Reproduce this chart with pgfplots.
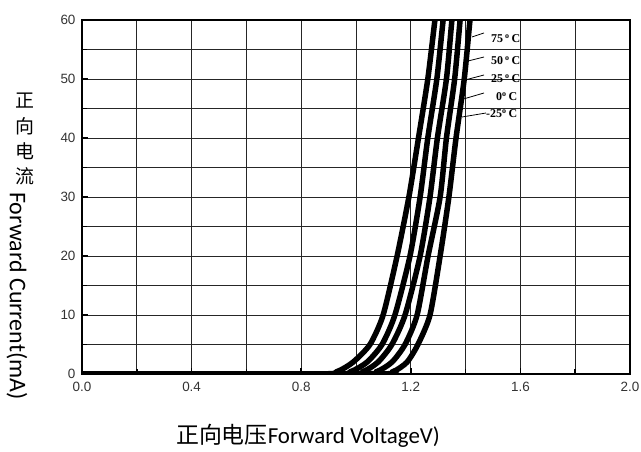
\documentclass[border=0pt]{standalone}
\usepackage{pgfplots}
\pgfplotsset{compat=1.18}
\usepackage{fontspec}
\setmainfont{Liberation Sans}
\newfontfamily\carlito{Carlito}
\newfontfamily\cjk{Noto Sans CJK SC}
\newfontfamily\tnr{Liberation Serif}
\definecolor{ticklab}{HTML}{333333}
\begin{document}
\begin{tikzpicture}[x=1bp,y=1bp]
\useasboundingbox (-82,-78) rectangle (559,374);
\begin{axis}[
  scale only axis, width=548bp, height=354bp,
  xmin=0, xmax=2, ymin=0, ymax=60,
  xtick={0,0.4,...,2.01}, ytick={0,10,...,60},
  minor x tick num=1, minor y tick num=1,
  grid=both,
  major grid style={black!85, line width=0.7bp},
  minor grid style={black!85, line width=0.7bp},
  axis line style={black, line width=1.8bp},
  tick style={black, line width=1.5bp},
  major tick length=6bp, minor tick length=5bp,
  tick align=inside,
  xtick pos=bottom, ytick pos=left,
  tick label style={font=\fontsize{13.5}{13.5}\selectfont, text=ticklab},
  /pgf/number format/assume math mode=true,
  xticklabel style={/pgf/number format/fixed, /pgf/number format/fixed zerofill, /pgf/number format/precision=1, yshift=-5bp},
  yticklabel style={xshift=-3bp},
  clip=true,
]
% 75 C
\addplot[black, line width=5.5bp, smooth, tension=0.4] coordinates {(0,0) (0.85,0) (0.93,0.4) (0.989,2) (1.051,5) (1.099,10) (1.150,20) (1.193,30) (1.228,40) (1.262,50) (1.288,60) (1.294,62)};
% 50 C
\addplot[black, line width=5.5bp, smooth, tension=0.4] coordinates {(0,0) (0.90,0) (0.98,0.4) (1.04,2) (1.095,5) (1.142,10) (1.197,20) (1.234,30) (1.262,40) (1.295,50) (1.318,60) (1.324,62)};
% 25 C
\addplot[black, line width=5.5bp, smooth, tension=0.4] coordinates {(0,0) (0.95,0) (1.025,0.4) (1.08,2) (1.131,5) (1.179,10) (1.234,20) (1.270,30) (1.297,40) (1.330,50) (1.350,60) (1.356,62)};
% 0 C
\addplot[black, line width=5.5bp, smooth, tension=0.4] coordinates {(0,0) (1.00,0) (1.075,0.4) (1.131,2) (1.179,5) (1.223,10) (1.263,20) (1.307,30) (1.330,40) (1.360,50) (1.380,60) (1.386,62)};
% -25 C
\addplot[black, line width=5.5bp, smooth, tension=0.4] coordinates {(0,0) (1.06,0) (1.135,0.4) (1.186,2) (1.226,5) (1.270,10) (1.307,20) (1.339,30) (1.365,40) (1.395,50) (1.416,60) (1.422,62)};
\end{axis}
% leader lines
\draw[black, line width=0.8bp] (390,337) -- (402,341);
\draw[black, line width=0.8bp] (386,313) -- (402,317);
\draw[black, line width=0.8bp] (383,294) -- (402,299);
\draw[black, line width=0.8bp] (378,274) -- (402,281);
\draw[black, line width=0.8bp] (380,257) -- (404,261);
% temperature labels
\tikzset{tl/.style={anchor=west, inner sep=0pt, font=\tnr\bfseries\fontsize{12}{12}\selectfont}}
\node[tl] at (409,335) {75\,\textsuperscript{o}\,C};
\node[tl] at (409,313) {50\,\textsuperscript{o}\,C};
\node[tl] at (409,295) {25\,\textsuperscript{o}\,C};
\node[tl] at (414,277) {0\textsuperscript{o}\,C};
\node[tl] at (404,260) {-25\textsuperscript{o}\,C};
% axis labels
\node[anchor=center, inner sep=0pt] at (226,-62) {\fontsize{23}{23}\selectfont\cjk 正向电压\carlito Forward VoltageV)};
\node[anchor=center, inner sep=0pt, rotate=-90] at (-65,78) {\fontsize{24}{24}\selectfont\carlito Forward Current(mA)};
\node[anchor=center, inner sep=0pt] at (-57,273) {\fontsize{19}{19}\selectfont\cjk 正};
\node[anchor=center, inner sep=0pt] at (-57,248) {\fontsize{19}{19}\selectfont\cjk 向};
\node[anchor=center, inner sep=0pt] at (-57,223) {\fontsize{19}{19}\selectfont\cjk 电};
\node[anchor=center, inner sep=0pt] at (-57,198) {\fontsize{19}{19}\selectfont\cjk 流};
\end{tikzpicture}
\end{document}
